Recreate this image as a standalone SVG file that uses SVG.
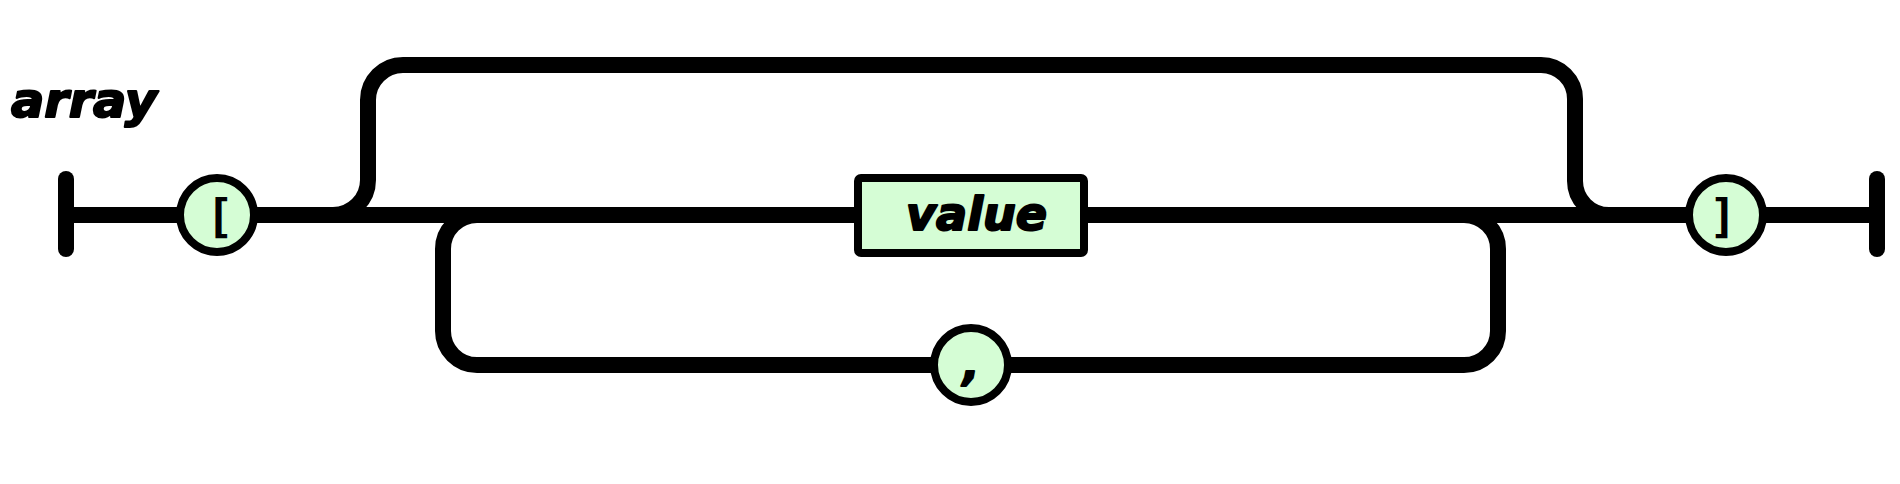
<svg xmlns="http://www.w3.org/2000/svg" width="1900" height="484" viewBox="0 0 1900 484">
<style>
.line{fill:none;stroke:#000;stroke-width:16}
.bar{stroke:#000;stroke-width:16;stroke-linecap:round}
.term{fill:#d5fdd5;stroke:#000;stroke-width:8}
.nt{fill:#d5fdd5;stroke:#000;stroke-width:8}
.lbl{font-family:"DejaVu Sans","Liberation Sans",sans-serif;font-weight:bold;font-style:italic;fill:#000;stroke:#000;stroke-width:2;stroke-linejoin:round}
.sym{font-family:"DejaVu Sans Mono",monospace;font-weight:bold;fill:#000}
</style>
<rect width="1900" height="484" fill="#fff"/>
<text class="lbl" x="11" y="117" font-size="48" textLength="146" lengthAdjust="spacingAndGlyphs">array</text>
<g id="connectors">
<line class="bar" x1="66" y1="179" x2="66" y2="249"/>
<line class="bar" x1="1877" y1="179" x2="1877" y2="249"/>
<path class="line" d="M66 215H180"/>
<path class="line" d="M254 215H854"/>
<path class="line" d="M1088 215H1689"/>
<path class="line" d="M1763 215H1877"/>
<path class="line" d="M333 215A35 35 0 0 0 368 180V100A35 35 0 0 1 403 65H1541A34 34 0 0 1 1575 99V181A34 34 0 0 0 1609 215"/>
<path class="line" d="M1464 215A34 34 0 0 1 1498 249V331A34 34 0 0 1 1464 365H1008M934 365H477A34 34 0 0 1 443 331V249A34 34 0 0 1 477 215"/>
</g>
<g id="open">
<circle class="term" cx="217" cy="215" r="37"/>
<text class="sym" x="220" y="232" font-size="47" text-anchor="middle">[</text>
</g>
<g id="value">
<rect class="nt" x="858" y="178" width="226" height="75" rx="3"/>
<text class="lbl" x="906" y="230" font-size="46" textLength="141" lengthAdjust="spacingAndGlyphs">value</text>
</g>
<g id="comma">
<circle class="term" cx="971" cy="365" r="37"/>
<text class="lbl" x="971" y="380" font-size="44" text-anchor="middle">,</text>
</g>
<g id="close">
<circle class="term" cx="1726" cy="215" r="37"/>
<text class="sym" x="1723" y="232" font-size="47" text-anchor="middle">]</text>
</g>
</svg>
